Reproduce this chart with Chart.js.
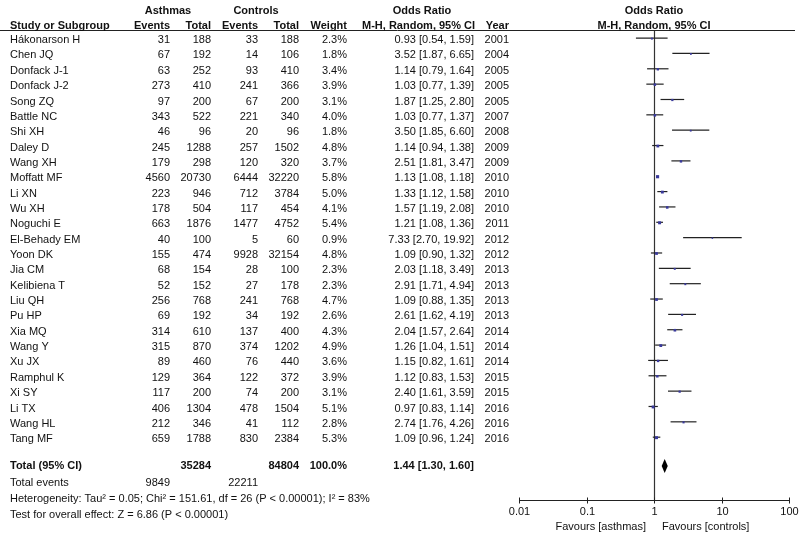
<!DOCTYPE html>
<html>
<head>
<meta charset="utf-8">
<script src="https://cdn.jsdelivr.net/npm/chart.js@4/dist/chart.umd.min.js"></script>
<style>
html,body{margin:0;padding:0;background:#fff;}
#wrap{width:800px;height:538px;}
</style>
</head>
<body>
<div id="wrap"><canvas id="c" width="800" height="538"></canvas></div>
<script>
const studies = ["Hákonarson H","Chen JQ","Donfack J-1","Donfack J-2","Song ZQ","Battle NC","Shi XH","Daley D","Wang XH","Moffatt MF","Li XN","Wu XH","Noguchi E","El-Behady EM","Yoon DK","Jia CM","Kelibiena T","Liu QH","Pu HP","Xia MQ","Wang Y","Xu JX","Ramphul K","Xi SY","Li TX","Wang HL","Tang MF"];
const asthmaEvents = [31,67,63,273,97,343,46,245,179,4560,223,178,663,40,155,68,52,256,69,314,315,89,129,117,406,212,659];
const asthmaTotal = [188,192,252,410,200,522,96,1288,298,20730,946,504,1876,100,474,154,152,768,192,610,870,460,364,200,1304,346,1788];
const controlEvents = [33,14,93,241,67,221,20,257,120,6444,712,117,1477,5,9928,28,27,241,34,137,374,76,122,74,478,41,830];
const controlTotal = [188,106,410,366,200,340,96,1502,320,32220,3784,454,4752,60,32154,100,178,768,192,400,1202,440,372,200,1504,112,2384];
const weights = [2.3,1.8,3.4,3.9,3.1,4.0,1.8,4.8,3.7,5.8,5.0,4.1,5.4,0.9,4.8,2.3,2.3,4.7,2.6,4.3,4.9,3.6,3.9,3.1,5.1,2.8,5.3];
const oddsRatio = [0.93,3.52,1.14,1.03,1.87,1.03,3.50,1.14,2.51,1.13,1.33,1.57,1.21,7.33,1.09,2.03,2.91,1.09,2.61,2.04,1.26,1.15,1.12,2.40,0.97,2.74,1.09];
const ciLow = [0.54,1.87,0.79,0.77,1.25,0.77,1.85,0.94,1.81,1.08,1.12,1.19,1.08,2.70,0.90,1.18,1.71,0.88,1.62,1.57,1.04,0.82,0.83,1.61,0.83,1.76,0.96];
const ciHigh = [1.59,6.65,1.64,1.39,2.80,1.37,6.60,1.38,3.47,1.18,1.58,2.08,1.36,19.92,1.32,3.49,4.94,1.35,4.19,2.64,1.51,1.61,1.53,3.59,1.14,4.26,1.24];
const years = [2001,2004,2005,2005,2005,2007,2008,2009,2009,2010,2010,2010,2011,2012,2012,2013,2013,2013,2013,2014,2014,2014,2015,2015,2016,2016,2016];
const totalAsthma = 35284;
const totalControl = 84804;
const totalWeight = "100.0%";
const totalOR = 1.44, totalLow = 1.30, totalHigh = 1.60;
const totalEventsAsthma = 9849;
const totalEventsControl = 22211;
const heterogeneityText = "Heterogeneity: Tau² = 0.05; Chi² = 151.61, df = 26 (P < 0.00001); I² = 83%";
const overallText = "Test for overall effect: Z = 6.86 (P < 0.00001)";
const tickValues = [0.01,0.1,1,10,100];
const tickLabels = ["0.01","0.1","1","10","100"];
const favoursLeft = "Favours [asthmas]";
const favoursRight = "Favours [controls]";

const TOTAL_ROW = 27.85;
const FONT = '"Liberation Sans", Arial, sans-serif';
const markerRadius = w => (1.2 + 0.33 * w) / 1.414;

const forestPlugin = {
  id: 'forest',
  beforeDatasetsDraw(chart) {
    const ctx = chart.ctx, xs = chart.scales.x, ys = chart.scales.y, ca = chart.chartArea;
    ctx.save();
    // vertical line at OR = 1
    ctx.strokeStyle = '#333'; ctx.lineWidth = 1.2;
    const x1 = Math.round(xs.getPixelForValue(1)) + 0.5;
    ctx.beginPath(); ctx.moveTo(x1, ca.top); ctx.lineTo(x1, ca.bottom); ctx.stroke();
    // CI lines
    ctx.strokeStyle = '#222'; ctx.lineWidth = 1.2;
    for (let i = 0; i < studies.length; i++) {
      const y = ys.getPixelForValue(i) - 0.5;
      ctx.beginPath();
      ctx.moveTo(xs.getPixelForValue(ciLow[i]), y);
      ctx.lineTo(xs.getPixelForValue(ciHigh[i]), y);
      ctx.stroke();
    }
    // diamond
    const yd = ys.getPixelForValue(TOTAL_ROW);
    ctx.fillStyle = '#000';
    ctx.beginPath();
    ctx.moveTo(xs.getPixelForValue(totalLow), yd);
    ctx.lineTo(xs.getPixelForValue(totalOR), yd - 7);
    ctx.lineTo(xs.getPixelForValue(totalHigh), yd);
    ctx.lineTo(xs.getPixelForValue(totalOR), yd + 7);
    ctx.closePath(); ctx.fill();
    // x axis
    const ya = Math.round(ca.bottom) + 0.5;
    ctx.strokeStyle = '#222'; ctx.lineWidth = 1;
    ctx.beginPath();
    ctx.moveTo(xs.getPixelForValue(tickValues[0]), ya);
    ctx.lineTo(xs.getPixelForValue(tickValues[tickValues.length-1]), ya);
    ctx.stroke();
    ctx.font = '11px ' + FONT; ctx.fillStyle = '#111';
    ctx.textAlign = 'center'; ctx.textBaseline = 'middle';
    tickValues.forEach((v, k) => {
      const px = Math.round(xs.getPixelForValue(v)) + 0.5;
      ctx.beginPath(); ctx.moveTo(px, ya - 3); ctx.lineTo(px, ya + 3); ctx.stroke();
      ctx.fillText(tickLabels[k], px, ya + 11);
    });
    ctx.textAlign = 'right';
    ctx.fillText(favoursLeft, xs.getPixelForValue(1) - 8, ya + 26);
    ctx.textAlign = 'left';
    ctx.fillText(favoursRight, xs.getPixelForValue(1) + 8, ya + 26);
    // header line
    ctx.strokeStyle = '#222'; ctx.lineWidth = 1;
    ctx.beginPath(); ctx.moveTo(0, Math.round(ca.top) + 0.5); ctx.lineTo(795, Math.round(ca.top) + 0.5); ctx.stroke();
    // headers
    const xc = xs.getPixelForValue(1);
    ctx.font = 'bold 11px ' + FONT; ctx.fillStyle = '#111';
    ctx.textAlign = 'center';
    ctx.fillText('Asthmas', 168, 11);
    ctx.fillText('Controls', 256, 11);
    ctx.fillText('Odds Ratio', 422, 11);
    ctx.fillText('Odds Ratio', xc, 11);
    ctx.fillText('M-H, Random, 95% CI', xc, 26);
    ctx.textAlign = 'left';
    ctx.fillText('Study or Subgroup', 10, 26);
    ctx.fillText('M-H, Random, 95% CI', 362, 26);
    ctx.textAlign = 'right';
    ctx.fillText('Events', 170, 26);
    ctx.fillText('Total', 211, 26);
    ctx.fillText('Events', 258, 26);
    ctx.fillText('Total', 299, 26);
    ctx.fillText('Weight', 347, 26);
    ctx.fillText('Year', 509, 26);
    // rows
    ctx.font = '11px ' + FONT;
    for (let i = 0; i < studies.length; i++) {
      const y = ys.getPixelForValue(i) + 1.5;
      ctx.textAlign = 'left';
      ctx.fillText(studies[i], 10, y);
      ctx.textAlign = 'right';
      ctx.fillText(String(asthmaEvents[i]), 170, y);
      ctx.fillText(String(asthmaTotal[i]), 211, y);
      ctx.fillText(String(controlEvents[i]), 258, y);
      ctx.fillText(String(controlTotal[i]), 299, y);
      ctx.fillText(weights[i].toFixed(1) + '%', 347, y);
      ctx.fillText(oddsRatio[i].toFixed(2) + ' [' + ciLow[i].toFixed(2) + ', ' + ciHigh[i].toFixed(2) + ']', 474, y);
      ctx.fillText(String(years[i]), 509, y);
    }
    // total row
    const yt = yd;
    ctx.font = 'bold 11px ' + FONT;
    ctx.textAlign = 'left';
    ctx.fillText('Total (95% CI)', 10, yt);
    ctx.textAlign = 'right';
    ctx.fillText(String(totalAsthma), 211, yt);
    ctx.fillText(String(totalControl), 299, yt);
    ctx.fillText(totalWeight, 347, yt);
    ctx.fillText(totalOR.toFixed(2) + ' [' + totalLow.toFixed(2) + ', ' + totalHigh.toFixed(2) + ']', 474, yt);
    ctx.font = '11px ' + FONT;
    ctx.textAlign = 'left';
    ctx.fillText('Total events', 10, yt + 17);
    ctx.textAlign = 'right';
    ctx.fillText(String(totalEventsAsthma), 170, yt + 17);
    ctx.fillText(String(totalEventsControl), 258, yt + 17);
    ctx.textAlign = 'left';
    ctx.fillText(heterogeneityText, 10, yt + 33);
    ctx.fillText(overallText, 10, yt + 49);
    ctx.restore();
  }
};

new Chart(document.getElementById('c'), {
  type: 'scatter',
  data: {
    datasets: [{
      data: oddsRatio.map((v, i) => ({x: v, y: i})),
      pointStyle: 'rect',
      pointRadius: weights.map(markerRadius),
      pointBorderWidth: 0,
      backgroundColor: '#3a3a9c',
      borderColor: '#3a3a9c',
      pointHoverRadius: weights.map(markerRadius)
    }]
  },
  options: {
    responsive: false,
    animation: false,
    events: [],
    layout: { padding: { left: 519, right: 11, top: 30, bottom: 38 } },
    plugins: { legend: { display: false }, tooltip: { enabled: false } },
    scales: {
      x: { type: 'logarithmic', min: 0.01, max: 100, display: false },
      y: { type: 'linear', min: -0.56, max: 30.06, reverse: true, display: false }
    }
  },
  plugins: [forestPlugin]
});
</script>
</body>
</html>
